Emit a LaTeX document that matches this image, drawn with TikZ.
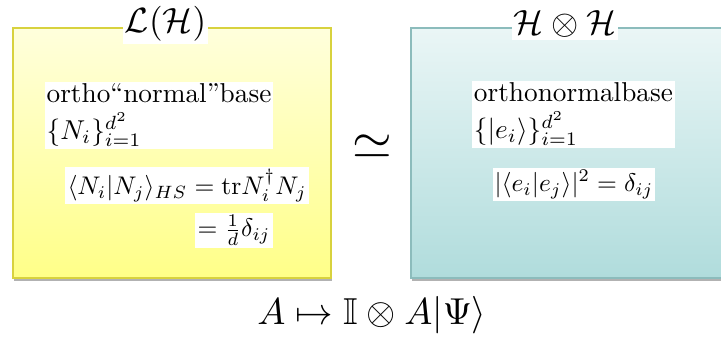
\documentclass[tikz,border=0pt]{standalone}
\usepackage{amsmath,amssymb}
\usetikzlibrary{shadows}
\definecolor{ytop}{HTML}{FFFFDC}
\definecolor{ybot}{HTML}{FFFF88}
\definecolor{yline}{HTML}{D8D23E}
\definecolor{ctop}{HTML}{EAF6F6}
\definecolor{cbot}{HTML}{B0DCDC}
\definecolor{cline}{HTML}{8CBCBC}
\tikzset{
  panel/.style={line width=1.5pt, drop shadow={shadow xshift=1.2pt, shadow yshift=-2.5pt, opacity=0.3, fill=black}},
  ttl/.style={fill=white, inner sep=0.6pt, scale=3.5},
  txt/.style={fill=white, inner sep=0.6pt, scale=2.73, align=left},
  eqn/.style={fill=white, inner sep=0.8pt, scale=2.55},
}
\begin{document}
\begin{tikzpicture}[x=1pt,y=-1pt]
\clip (0,0) rectangle (721,342);
\fill[white] (0,0) rectangle (721,342);
\path[panel, top color=ytop, bottom color=ybot, draw=yline] (13,28) rectangle (331,278);
\path[panel, top color=ctop, bottom color=cbot, draw=cline] (411,28) rectangle (740,278);
\node[ttl] (t1) at (165.5,24) {$\mathcal{L}(\mathcal{H})$};
\node[ttl] (t2) at (565,24) {$\mathcal{H}\otimes\mathcal{H}$};
\node[txt] (b1) at (159,115.5) {ortho``normal''base\\[1.5pt] $\{N_i\}_{i=1}^{d^2}$};
\node[txt] (b2) at (573.5,114.5) {orthonormalbase\\[1.5pt] $\{|e_i\rangle\}_{i=1}^{d^2}$};
\node[eqn] (e1) at (187,185.5) {$\langle N_i|N_j\rangle_{HS} = \mathrm{tr} N_i^\dagger N_j$};
\node[eqn] (e2) at (234,230.5) {$= \frac{1}{d}\delta_{ij}$};
\node[eqn] (e3) at (574,184.5) {$|\langle e_i|e_j\rangle|^2 = \delta_{ij}$};
\node[inner sep=0pt, scale=5.1] (sim) at (372,146.5) {$\simeq$};
\node[inner sep=0pt, scale=3.75] (map) at (372,315) {$A \mapsto \mathbb{I}\otimes A|\Psi\rangle$};
\end{tikzpicture}
\end{document}
